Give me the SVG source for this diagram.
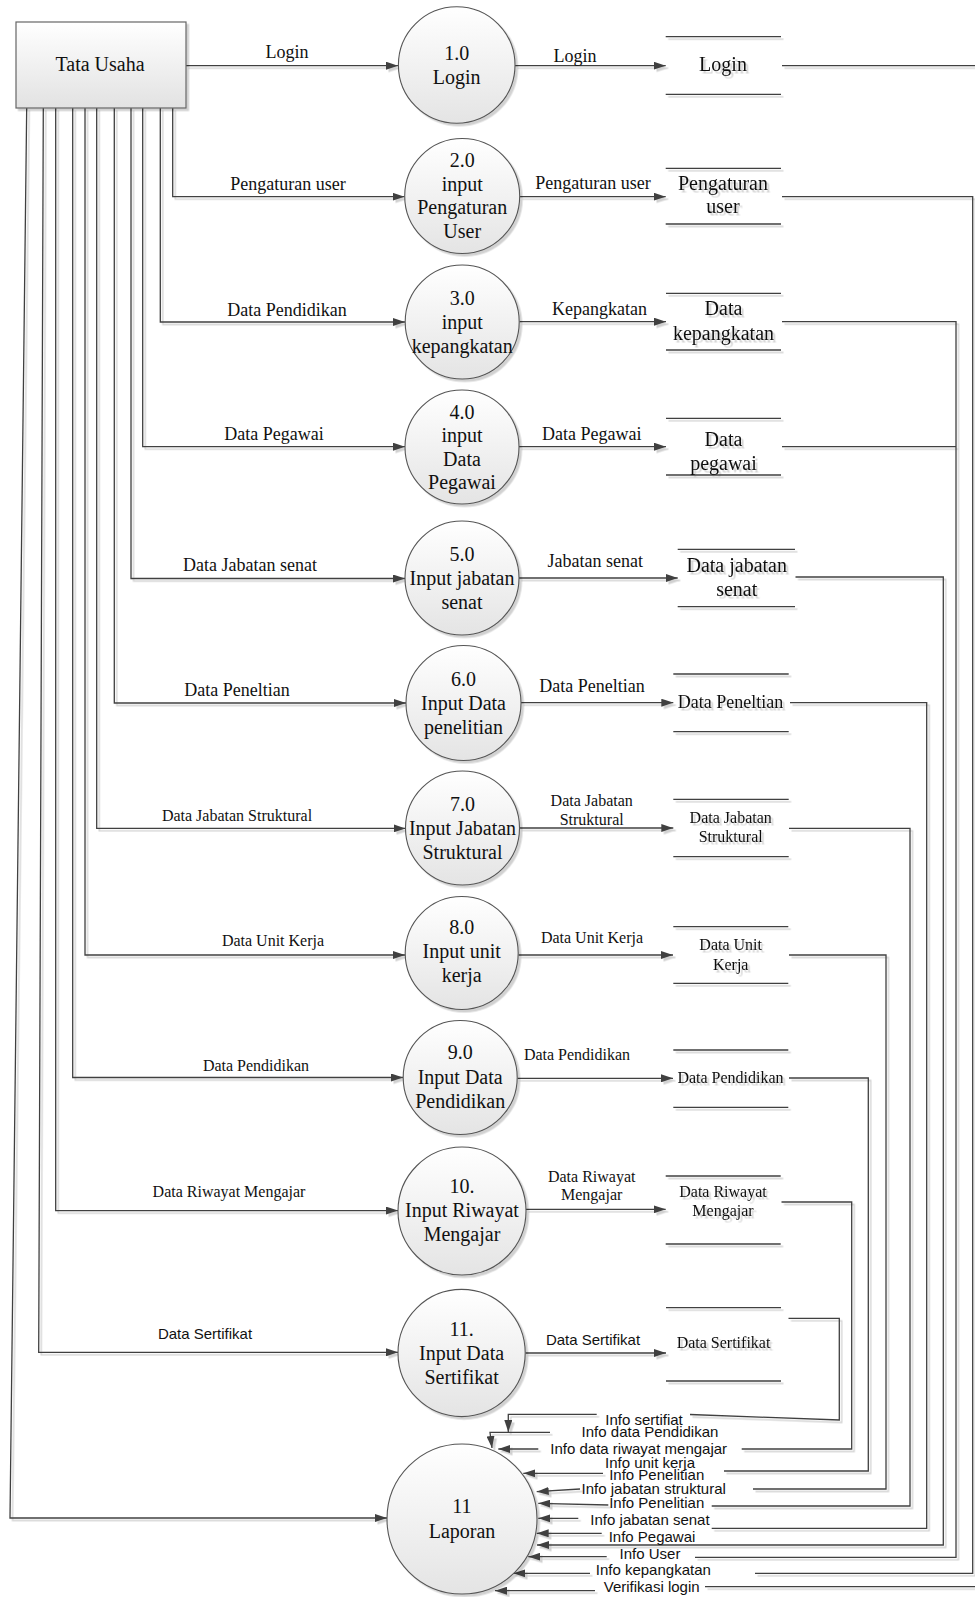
<svg xmlns="http://www.w3.org/2000/svg" width="975" height="1597" viewBox="0 0 975 1597">
<style>
.ln{fill:none;stroke:#404040;stroke-width:1.3}
.ar{marker-end:url(#ah)}
.sl{stroke:#404040;stroke-width:1.3}
.t{font-family:"Liberation Serif","Times New Roman",serif;fill:#111;text-anchor:middle}
.s{font-family:"Liberation Sans",Arial,sans-serif;fill:#111;text-anchor:middle;font-size:15px}
.f20{font-size:20px}.f18{font-size:18px}.f16{font-size:16px}
.pc{fill:url(#cg);stroke:#555;stroke-width:1.1}
</style>
<defs>
<linearGradient id="cg" x1="0" y1="0" x2="0" y2="1"><stop offset="0" stop-color="#ffffff"/><stop offset="1" stop-color="#e4e4e4"/></linearGradient>
<linearGradient id="bg" x1="0" y1="0" x2="0" y2="1"><stop offset="0" stop-color="#ffffff"/><stop offset="1" stop-color="#e2e2e2"/></linearGradient>
<filter id="sh" x="-10%" y="-10%" width="120%" height="120%"><feDropShadow dx="2.5" dy="2.5" stdDeviation="0.7" flood-color="#000" flood-opacity="0.18"/></filter>
<marker id="ah" viewBox="0 0 12 8" refX="12" refY="4" markerWidth="12" markerHeight="8" markerUnits="userSpaceOnUse" orient="auto"><path d="M0,0 L12,4 L0,8 Z" fill="#404040"/></marker>
</defs>
<rect width="975" height="1597" fill="#fff"/>

<g id="connectors" filter="url(#sh)">
<path class="ln ar" d="M186,65.7 H398"/>
<path class="ln ar" d="M172.7,108 V196.7 H404.5"/>
<path class="ln ar" d="M160.3,108 V322 H405"/>
<path class="ln ar" d="M142.7,108 V446.7 H405"/>
<path class="ln ar" d="M131,108 V578.5 H405"/>
<path class="ln ar" d="M114.3,108 V703 H406"/>
<path class="ln ar" d="M96.7,108 V828.4 H405.5"/>
<path class="ln ar" d="M85,108 V955 H405"/>
<path class="ln ar" d="M72.7,108 V1077.5 H403"/>
<path class="ln ar" d="M55.7,108 V1210.6 H398"/>
<path class="ln ar" d="M43.3,108 L38.7,1352.3 H398"/>
<path class="ln ar" d="M26.7,108 L10,1518 H387"/>

<path class="ln ar" d="M515,65.7 H665.7"/>
<path class="ln ar" d="M520,196.7 H665.7"/>
<path class="ln ar" d="M519.5,321.7 H666"/>
<path class="ln ar" d="M519,446.7 H666"/>
<path class="ln ar" d="M519,578 H677.7"/>
<path class="ln ar" d="M521,702.7 H673.3"/>
<path class="ln ar" d="M519.5,828 H673.3"/>
<path class="ln ar" d="M518.5,955 H673"/>
<path class="ln ar" d="M517.5,1078.3 H673"/>
<path class="ln ar" d="M526,1209.3 H665.7"/>
<path class="ln ar" d="M525.5,1353 H666"/>

<path class="ln" d="M782,65.7 H990 V1586.7 H705"/>
<path class="ln" d="M782,196.7 H972.7 V1573.3 H755"/>
<path class="ln" d="M782,321.7 H956 V1557.3 H695"/>
<path class="ln" d="M782,446.7 H956"/>
<path class="ln ar" d="M795.5,577 H943.3 V1545 H537"/>
<path class="ln" d="M790,702.7 H926.7 V1528.3 H711.7"/>
<path class="ln" d="M789,828.3 H910 V1506 H711.7"/>
<path class="ln" d="M789,955 H886 V1489 H753"/>
<path class="ln" d="M789,1078 H868.3 V1471 H724"/>
<path class="ln" d="M781.5,1202 H851.7 V1449 H741.7"/>
<path class="ln" d="M788.5,1318.3 H839.3 V1420 L690,1414.5"/>

<path class="ln ar" d="M596.7,1414.3 H508.3 V1432"/>
<path class="ln ar" d="M550,1432.3 H490 L492,1448"/>
<path class="ln ar" d="M538.3,1449 H498.3"/>
<path class="ln ar" d="M603,1473.3 H523.3"/>
<path class="ln ar" d="M580,1489 L536.7,1491.7"/>
<path class="ln ar" d="M608.3,1505 L538.3,1503.3"/>
<path class="ln ar" d="M578.3,1518.3 H538.3"/>
<path class="ln ar" d="M601.7,1533.3 H536.7"/>
<path class="ln ar" d="M606.7,1556.7 H528.3"/>
<path class="ln ar" d="M590,1573.3 H513.3"/>
<path class="ln ar" d="M595,1590.7 H495"/>
</g>

<g id="flow-labels">
<text class="t f18" x="287" y="58">Login</text>
<text class="t f18" x="288" y="190">Pengaturan user</text>
<text class="t f18" x="287" y="316">Data Pendidikan</text>
<text class="t f18" x="274" y="440">Data Pegawai</text>
<text class="t f18" x="250" y="571">Data Jabatan senat</text>
<text class="t f18" x="237" y="696">Data Peneltian</text>
<text class="t f16" x="237" y="820.5">Data Jabatan Struktural</text>
<text class="t f16" x="273" y="946">Data Unit Kerja</text>
<text class="t f16" x="256" y="1070.5">Data Pendidikan</text>
<text class="t f16" x="229" y="1196.5">Data Riwayat Mengajar</text>
<text class="s" x="205" y="1338.5">Data Sertifikat</text>

<text class="t f18" x="575" y="62">Login</text>
<text class="t f18" x="593" y="189">Pengaturan user</text>
<text class="t f18" x="599.5" y="315">Kepangkatan</text>
<text class="t f18" x="591.7" y="440">Data Pegawai</text>
<text class="t f18" x="595.3" y="566.7">Jabatan senat</text>
<text class="t f18" x="592" y="691.7">Data Peneltian</text>
<text class="t f16" x="591.7" y="806">Data Jabatan</text>
<text class="t f16" x="591.7" y="825">Struktural</text>
<text class="t f16" x="592" y="943.3">Data Unit Kerja</text>
<text class="t f16" x="577" y="1060">Data Pendidikan</text>
<text class="t f16" x="591.7" y="1181.7">Data Riwayat</text>
<text class="t f16" x="591.7" y="1200">Mengajar</text>
<text class="s" x="593" y="1345">Data Sertifikat</text>

<text class="s" x="644" y="1424.5">Info sertifiat</text>
<text class="s" x="650" y="1437">Info data Pendidikan</text>
<text class="s" x="638.7" y="1454">Info data riwayat mengajar</text>
<text class="s" x="650" y="1467.5">Info unit kerja</text>
<text class="s" x="656.7" y="1480">Info Penelitian</text>
<text class="s" x="653.7" y="1494">Info jabatan struktural</text>
<text class="s" x="656.7" y="1507.5">Info Penelitian</text>
<text class="s" x="650" y="1525">Info jabatan senat</text>
<text class="s" x="652" y="1541.5">Info Pegawai</text>
<text class="s" x="650" y="1559">Info User</text>
<text class="s" x="653.3" y="1574.5">Info kepangkatan</text>
<text class="s" x="651.7" y="1592">Verifikasi login</text>
</g>

<g id="tata-usaha">
<rect x="16" y="22" width="170" height="86" fill="url(#bg)" stroke="#666" stroke-width="1.2" filter="url(#sh)"/>
<text class="t f20" x="100" y="71">Tata Usaha</text>
</g>

<g id="p1"><circle class="pc" cx="456.7" cy="65" r="58.3" filter="url(#sh)"/>
<text class="t f20" x="456.7" y="60">1.0</text><text class="t f20" x="456.7" y="84">Login</text></g>
<g id="p2"><circle class="pc" cx="462.2" cy="196" r="57.5" filter="url(#sh)"/>
<text class="t f20" x="462.2" y="167">2.0</text><text class="t f20" x="462.2" y="190.5">input</text><text class="t f20" x="462.2" y="214">Pengaturan</text><text class="t f20" x="462.2" y="237.5">User</text></g>
<g id="p3"><circle class="pc" cx="462.2" cy="322" r="57" filter="url(#sh)"/>
<text class="t f20" x="462.2" y="304.5">3.0</text><text class="t f20" x="462.2" y="328.5">input</text><text class="t f20" x="462.2" y="352.5">kepangkatan</text></g>
<g id="p4"><circle class="pc" cx="462" cy="447" r="57" filter="url(#sh)"/>
<text class="t f20" x="462" y="418.5">4.0</text><text class="t f20" x="462" y="442">input</text><text class="t f20" x="462" y="465.5">Data</text><text class="t f20" x="462" y="489">Pegawai</text></g>
<g id="p5"><circle class="pc" cx="462" cy="578" r="57" filter="url(#sh)"/>
<text class="t f20" x="462" y="561">5.0</text><text class="t f20" x="462" y="585">Input jabatan</text><text class="t f20" x="462" y="609">senat</text></g>
<g id="p6"><circle class="pc" cx="463.5" cy="703" r="57.5" filter="url(#sh)"/>
<text class="t f20" x="463.5" y="686">6.0</text><text class="t f20" x="463.5" y="710">Input Data</text><text class="t f20" x="463.5" y="734">penelitian</text></g>
<g id="p7"><circle class="pc" cx="462.5" cy="828" r="57" filter="url(#sh)"/>
<text class="t f20" x="462.5" y="811">7.0</text><text class="t f20" x="462.5" y="835">Input Jabatan</text><text class="t f20" x="462.5" y="859">Struktural</text></g>
<g id="p8"><circle class="pc" cx="461.7" cy="953" r="56.5" filter="url(#sh)"/>
<text class="t f20" x="461.7" y="934">8.0</text><text class="t f20" x="461.7" y="958">Input unit</text><text class="t f20" x="461.7" y="982">kerja</text></g>
<g id="p9"><circle class="pc" cx="460.2" cy="1077.5" r="57" filter="url(#sh)"/>
<text class="t f20" x="460.2" y="1059">9.0</text><text class="t f20" x="460.2" y="1083.5">Input Data</text><text class="t f20" x="460.2" y="1108">Pendidikan</text></g>
<g id="p10"><circle class="pc" cx="462" cy="1211" r="64" filter="url(#sh)"/>
<text class="t f20" x="462" y="1192.5">10.</text><text class="t f20" x="462" y="1217">Input Riwayat</text><text class="t f20" x="462" y="1241">Mengajar</text></g>
<g id="p11"><circle class="pc" cx="461.6" cy="1353" r="63.6" filter="url(#sh)"/>
<text class="t f20" x="461.6" y="1336">11.</text><text class="t f20" x="461.6" y="1360">Input Data</text><text class="t f20" x="461.6" y="1384">Sertifikat</text></g>
<g id="laporan"><circle class="pc" cx="462" cy="1519" r="75" filter="url(#sh)"/>
<text class="t f20" x="462" y="1513">11</text><text class="t f20" x="462" y="1537.5">Laporan</text></g>

<g id="store-login" filter="url(#sh)"><line class="sl" x1="665.7" y1="36.7" x2="781" y2="36.7"/><line class="sl" x1="665.7" y1="94.3" x2="781" y2="94.3"/>
<text class="t f20" x="723" y="71">Login</text></g>
<g id="store-user" filter="url(#sh)"><line class="sl" x1="665.7" y1="168.3" x2="781" y2="168.3"/><line class="sl" x1="665.7" y1="224" x2="781" y2="224"/>
<text class="t f20" x="723" y="190">Pengaturan</text><text class="t f20" x="723" y="213">user</text></g>
<g id="store-kepangkatan" filter="url(#sh)"><line class="sl" x1="666" y1="293.3" x2="781" y2="293.3"/><line class="sl" x1="666" y1="350" x2="781" y2="350"/>
<text class="t f20" x="723.5" y="315">Data</text><text class="t f20" x="723.5" y="340">kepangkatan</text></g>
<g id="store-pegawai" filter="url(#sh)"><line class="sl" x1="666" y1="418.3" x2="781" y2="418.3"/><line class="sl" x1="666" y1="475" x2="781" y2="475"/>
<text class="t f20" x="723.5" y="446">Data</text><text class="t f20" x="723.5" y="470">pegawai</text></g>
<g id="store-senat" filter="url(#sh)"><line class="sl" x1="677.7" y1="549.3" x2="795" y2="549.3"/><line class="sl" x1="677.7" y1="606.7" x2="795" y2="606.7"/>
<text class="t f20" x="736.7" y="571.7">Data jabatan</text><text class="t f20" x="736.7" y="595.7">senat</text></g>
<g id="store-peneltian" filter="url(#sh)"><line class="sl" x1="673.3" y1="674" x2="788.7" y2="674"/><line class="sl" x1="673.3" y1="731.7" x2="788.7" y2="731.7"/>
<text class="t f18" x="730.5" y="708.3">Data Peneltian</text></g>
<g id="store-struktural" filter="url(#sh)"><line class="sl" x1="673.3" y1="799.3" x2="788.7" y2="799.3"/><line class="sl" x1="673.3" y1="856.7" x2="788.7" y2="856.7"/>
<text class="t f16" x="730.7" y="823.3">Data Jabatan</text><text class="t f16" x="730.7" y="842.3">Struktural</text></g>
<g id="store-unit" filter="url(#sh)"><line class="sl" x1="673.3" y1="926.7" x2="788.3" y2="926.7"/><line class="sl" x1="673.3" y1="983.3" x2="788.3" y2="983.3"/>
<text class="t f16" x="730.7" y="950">Data Unit</text><text class="t f16" x="730.7" y="970">Kerja</text></g>
<g id="store-pendidikan" filter="url(#sh)"><line class="sl" x1="673.3" y1="1050" x2="788.3" y2="1050"/><line class="sl" x1="673.3" y1="1107.3" x2="788.3" y2="1107.3"/>
<text class="t f16" x="730.5" y="1082.7">Data Pendidikan</text></g>
<g id="store-riwayat" filter="url(#sh)"><line class="sl" x1="665.7" y1="1176" x2="780.7" y2="1176"/><line class="sl" x1="665.7" y1="1244" x2="780.7" y2="1244"/>
<text class="t f16" x="723" y="1197.3">Data Riwayat</text><text class="t f16" x="723" y="1216">Mengajar</text></g>
<g id="store-sertifikat" filter="url(#sh)"><line class="sl" x1="666" y1="1307.7" x2="781" y2="1307.7"/><line class="sl" x1="666" y1="1381" x2="781" y2="1381"/>
<text class="t f16" x="723.5" y="1348.3">Data Sertifikat</text></g>
</svg>
